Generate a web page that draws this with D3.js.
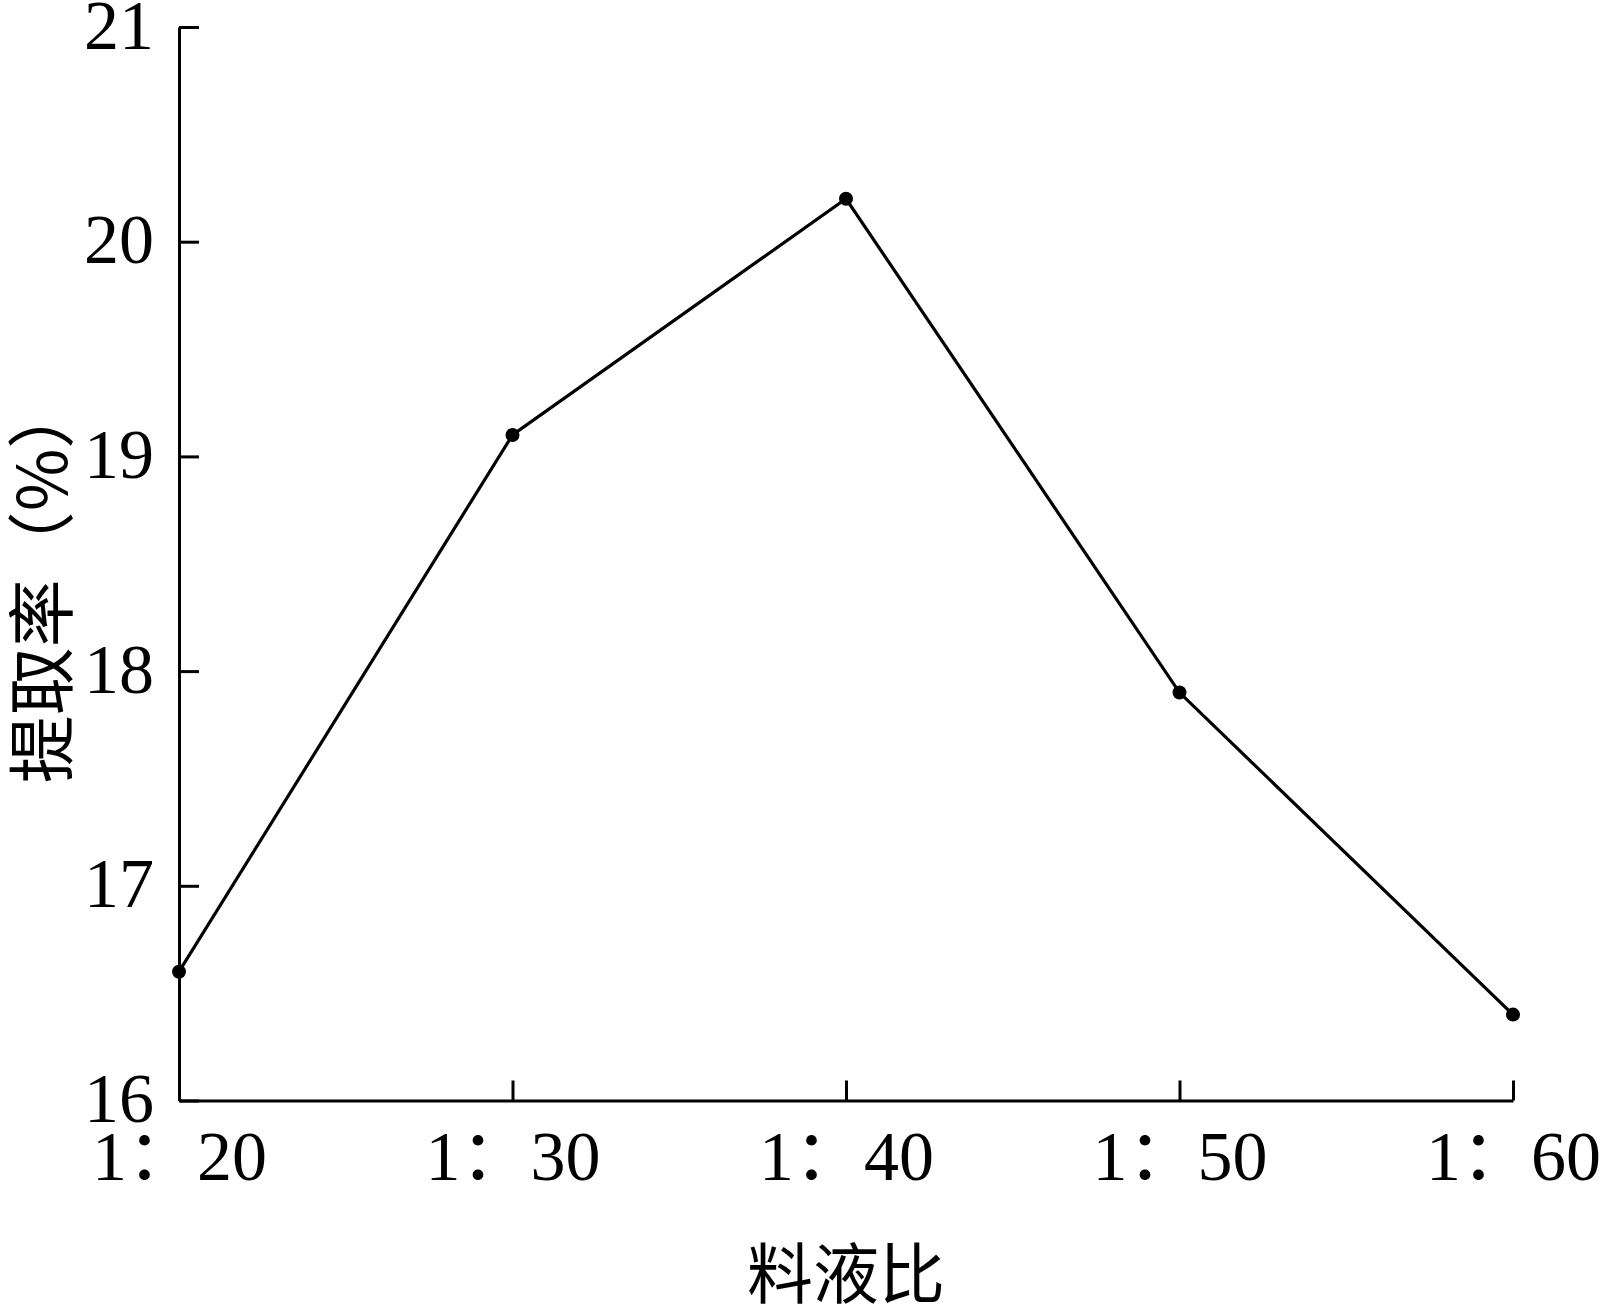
<!DOCTYPE html>
<html>
<head>
<meta charset="utf-8">
<script src="https://cdn.jsdelivr.net/npm/d3@7"></script>
<style>
  html, body { margin: 0; padding: 0; background: #fff; }
  svg { display: block; }
</style>
</head>
<body>
<svg id="chart" width="1600" height="1305"></svg>
<script>
const categories = ["1：20", "1：30", "1：40", "1：50", "1：60"];
const values = [16.6, 19.1, 20.2, 17.9, 16.4];
const yTicks = [16, 17, 18, 19, 20, 21];
const xTitle = "料液比";
const yTitle = "提取率（%）";

const svg = d3.select("#chart");
const plotLeft = 179, plotRight = 1513, plotTop = 27, plotBottom = 1100.5;
const numFont = "'Liberation Serif', 'Times New Roman', 'Noto Sans CJK SC', serif";
const cjkFont = "'Noto Sans CJK SC', 'Liberation Serif', sans-serif";

const x = d3.scalePoint().domain(categories).range([plotLeft, plotRight]).padding(0);
const y = d3.scaleLinear().domain([16, 21]).range([plotBottom, plotTop]);

// Y axis
const gy = svg.append("g").attr("transform", `translate(${plotLeft},0)`)
  .call(d3.axisLeft(y).tickValues(yTicks).tickSizeInner(-20).tickSizeOuter(0).tickPadding(25).tickFormat(d3.format("d")));
gy.select(".domain").attr("stroke", "#000").attr("stroke-width", 3);
gy.selectAll(".tick line").attr("stroke", "#000").attr("stroke-width", 3);
gy.selectAll(".tick text").attr("font-family", numFont).attr("font-size", 70).attr("fill", "#000").attr("dy", "0.3em");

// X axis
const gx = svg.append("g").attr("transform", `translate(0,${plotBottom})`)
  .call(d3.axisBottom(x).tickSizeInner(-20).tickSizeOuter(0));
gx.select(".domain").attr("stroke", "#000").attr("stroke-width", 3);
gx.selectAll(".tick line").attr("stroke", "#000").attr("stroke-width", 3);
gx.selectAll(".tick text").attr("font-family", numFont).attr("font-size", 70).attr("fill", "#000")
  .attr("y", 79).attr("dy", 0);

// Line
const line = d3.line().x((d, i) => x(categories[i])).y(d => y(d));
svg.append("path").datum(values).attr("d", line)
  .attr("fill", "none").attr("stroke", "#000").attr("stroke-width", 3.2).attr("stroke-linejoin", "miter");

svg.append("g").selectAll("circle").data(values).join("circle")
  .attr("cx", (d, i) => x(categories[i])).attr("cy", d => y(d)).attr("r", 7).attr("fill", "#000");

// Titles
svg.append("text").text(xTitle)
  .attr("x", (plotLeft + plotRight) / 2).attr("y", 1269).attr("text-anchor", "middle")
  .attr("dominant-baseline", "central").attr("font-family", cjkFont).attr("font-size", 66).attr("fill", "#000");

svg.append("text").text(yTitle)
  .attr("transform", `translate(37,582) rotate(-90)`).attr("text-anchor", "middle")
  .attr("dominant-baseline", "central").attr("font-family", cjkFont).attr("font-size", 68).attr("fill", "#000");
</script>
</body>
</html>
